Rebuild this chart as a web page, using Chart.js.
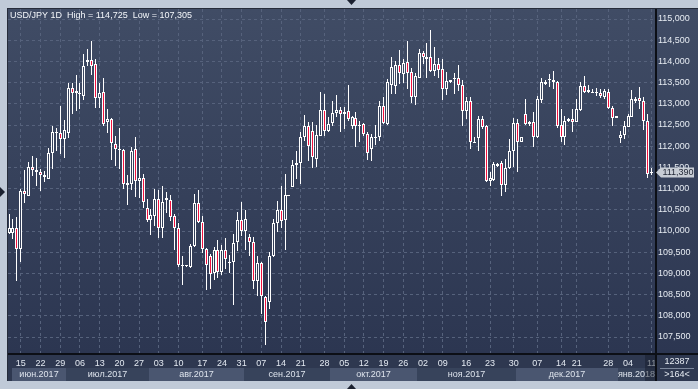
<!DOCTYPE html>
<html>
<head>
<meta charset="utf-8">
<script src="https://cdn.jsdelivr.net/npm/chart.js@4.4.1/dist/chart.umd.min.js"></script>
<style>
  html, body { margin: 0; padding: 0; background: #c0cad8; overflow: hidden; }
  canvas { display: block; }
</style>
</head>
<body>
<canvas id="usdjpy" width="698" height="389"></canvas>
<script>
// USD/JPY daily candles, Jun 2017 - Jan 2018
const openP = [
  109.96,109.96,110.08,109.58,110.94,110.83,111.52,111.45,111.38,111.32,
  111.22,111.85,112.34,112.30,112.16,112.30,113.37,113.25,113.26,113.19,
  113.99,114.03,113.93,113.14,113.29,112.56,112.63,112.06,111.94,111.90,
  111.08,111.10,111.93,111.18,111.26,110.55,110.26,110.35,110.75,110.06,
  110.79,110.74,110.35,110.08,109.21,109.19,109.15,109.65,110.67,110.22,
  109.58,109.40,109.00,109.55,109.03,109.55,109.26,109.26,109.73,110.25,
  109.99,109.85,109.73,108.81,109.25,108.44,108.33,109.41,110.19,110.49,
  110.25,110.84,111.03,111.56,111.60,112.21,112.48,112.35,111.71,112.25,
  112.85,112.35,112.54,112.78,112.85,112.81,112.82,112.48,112.67,112.50,
  112.52,112.29,111.93,112.21,112.21,112.94,112.52,113.45,113.43,113.92,
  113.70,113.98,113.74,113.17,113.62,114.20,114.10,114.10,113.78,113.95,
  113.81,113.36,113.52,113.58,113.60,113.44,112.82,113.06,112.09,112.19,
  112.64,112.48,111.19,111.21,111.58,111.60,111.09,111.49,111.89,112.54,
  112.11,112.76,112.52,112.56,112.21,113.09,113.52,113.55,113.56,113.51,
  112.50,112.22,112.59,112.64,112.58,112.85,113.41,113.27,113.29,113.29,
  113.25,113.15,113.29,112.89,112.67,112.19,112.27,112.46,112.70,113.07,
  113.14,113.06,112.60,111.36
]
const highP = [
  110.39,110.28,110.34,110.98,111.43,111.63,111.78,111.72,111.46,111.42,
  111.95,112.48,112.44,112.94,112.62,113.48,113.48,113.69,113.48,114.17,
  114.29,114.48,114.05,113.48,113.62,112.87,112.67,112.24,112.42,111.94,
  111.31,111.97,112.21,111.72,111.34,110.76,110.51,110.98,110.97,111.06,
  110.92,110.84,110.39,110.18,109.41,109.19,109.69,110.87,110.96,110.35,
  109.61,109.45,109.63,109.79,109.67,109.83,109.43,109.93,110.46,110.68,
  110.50,109.94,109.85,109.40,109.28,108.47,109.50,110.28,110.70,111.07,
  111.34,110.85,111.68,111.89,112.33,112.74,112.56,112.56,112.50,113.27,
  113.23,112.68,113.07,113.21,112.92,112.92,113.44,112.72,112.80,112.60,
  112.55,112.33,112.29,112.50,113.07,113.16,113.58,114.11,114.02,114.27,
  114.06,114.47,113.84,113.72,114.29,114.25,114.43,114.73,114.33,114.08,
  114.05,113.74,113.56,113.72,113.92,113.55,113.15,113.15,112.21,112.72,
  112.72,112.50,111.38,111.62,111.60,111.66,111.70,112.17,112.66,112.64,
  112.22,113.11,112.60,112.81,113.19,113.62,113.55,113.70,113.77,113.53,
  112.88,112.72,112.67,112.88,113.11,113.51,113.65,113.44,113.35,113.37,
  113.35,113.36,113.35,112.96,112.72,112.37,112.60,112.76,113.33,113.15,
  113.39,113.17,112.76,111.48
]
const lowP = [
  109.92,109.80,108.82,109.28,110.65,110.83,111.30,111.06,110.94,111.16,
  111.22,111.46,111.89,111.81,111.72,112.19,112.75,112.83,112.87,113.09,
  113.88,113.69,112.91,112.89,112.48,112.32,111.68,111.53,111.46,110.98,
  110.61,110.97,110.80,110.78,110.54,110.21,109.91,110.12,109.84,109.84,
  110.43,110.24,109.55,109.16,108.73,109.16,109.12,109.63,110.20,109.49,
  108.61,108.64,108.84,108.90,108.96,109.10,109.01,108.26,109.54,109.89,
  109.56,109.40,108.63,108.46,108.04,107.32,108.16,109.39,109.97,110.07,
  109.56,110.83,111.03,111.23,111.11,112.13,111.66,111.48,111.50,112.23,
  112.25,112.33,112.48,112.70,112.33,112.41,112.60,112.41,111.99,112.09,
  112.25,111.68,111.64,112.03,112.13,112.52,112.51,113.23,113.23,113.47,
  113.50,113.35,113.03,112.97,113.61,113.94,113.62,113.74,113.66,113.62,
  113.10,113.21,113.48,113.23,113.31,112.48,112.64,111.93,112.08,111.88,
  112.41,111.15,111.07,111.19,111.50,110.83,110.93,111.46,111.50,111.40,
  112.09,112.50,112.48,111.99,112.20,113.03,113.45,113.39,113.36,112.44,
  112.09,112.03,112.56,112.33,112.56,112.84,113.25,113.25,113.25,113.19,
  113.13,113.11,112.88,112.47,112.67,112.07,112.17,112.45,112.68,113.03,
  112.88,112.38,111.25,111.32
]
const closeP = [
  110.08,110.08,109.58,110.94,110.88,111.52,111.45,111.38,111.32,111.27,
  111.85,112.34,112.30,112.18,112.39,113.37,113.26,113.30,113.22,113.89,
  114.03,113.90,113.14,113.25,112.53,112.63,112.08,111.94,111.90,111.12,
  111.14,111.89,111.18,111.26,110.68,110.26,110.37,110.75,110.06,110.69,
  110.73,110.33,110.06,109.20,109.18,109.18,109.65,110.67,110.22,109.58,
  109.20,108.98,109.55,109.03,109.55,109.33,109.25,109.72,110.25,109.99,
  110.28,109.73,108.81,109.25,108.46,107.86,109.41,110.19,110.49,110.24,
  110.84,110.84,111.56,111.60,112.22,112.48,112.00,111.74,112.26,112.85,
  112.35,112.52,112.78,112.85,112.76,112.75,112.64,112.68,112.48,112.47,
  112.29,111.84,112.21,112.21,112.94,112.54,113.52,113.86,113.92,113.73,
  113.96,113.72,113.17,113.65,114.20,114.10,114.05,113.77,113.95,113.80,
  113.36,113.54,113.55,113.60,113.44,112.82,113.06,112.09,112.11,112.64,
  112.46,111.19,111.24,111.58,111.53,111.09,111.49,111.88,112.54,112.11,
  112.21,112.52,112.56,112.21,113.11,113.51,113.47,113.58,113.51,112.47,
  112.22,112.60,112.64,112.57,112.88,113.41,113.29,113.33,113.27,113.25,
  113.18,113.31,112.89,112.67,112.72,112.27,112.48,112.72,113.11,113.11,
  113.07,112.60,111.34,111.39
]

// weekly labels on the time axis (candle number -> day of month)
const tickIdx = [4, 9, 14, 19, 24, 29, 34, 39, 44, 50, 55, 60, 65, 70, 75, 81,
  86, 91, 96, 101, 106, 111, 117, 123, 129, 135, 141, 145, 153, 158, 164]
const tickLab = ['15', '22', '29', '06', '13', '20', '27', '03', '10', '17', '24', '31',
  '07', '14', '21', '28', '05', '12', '19', '26', '02', '09', '16', '23', '30',
  '07', '14', '21', '28', '04', '11']

// month strip under the dates
const monthLab = ['июн.2017', 'июл.2017', 'авг.2017', 'сен.2017', 'окт.2017',
  'ноя.2017', 'дек.2017', 'янв.2018']
const monthStart = [1, 16, 37, 61, 83, 105, 130, 156]

const title = 'USD/JPY 1D  High = 114,725  Low = 107,305'
const barTotal = '12387'

const idx = closeP.map((_, i) => i + 1)
const fmt = v => v.toFixed(3).replace('.', ',')
const FAMILY = '"Liberation Sans", Arial, sans-serif'
const FONT = '9px ' + FAMILY
const Y_MIN = 107.123
const Y_MAX = 115.236

// hollow candles show the panel colour through, so follow the gradient
function hollowFill (v) {
  const t = Math.min(1, Math.max(0, (Y_MAX - v) / (Y_MAX - Y_MIN)))
  const top = [64, 76, 101]
  const bot = [44, 54, 81]
  const c = top.map((a, k) => Math.round(a + (bot[k] - a) * t))
  return `rgb(${c[0]},${c[1]},${c[2]})`
}

// keep candles on whole pixels like the terminal does
const snap = {
  id: 'snap',
  beforeDatasetsDraw (chart) {
    chart.data.datasets.forEach((ds, d) => {
      chart.getDatasetMeta(d).data.forEach(el => {
        el.width = Math.round(el.width)
        el.x = Math.floor(el.x) + 0.5
        el.y = Math.round(el.y)
        el.base = Math.round(el.base)
        if (Math.abs(el.base - el.y) < 1) el.base = el.y + 1
      })
    })
  }
}

const frame = {
  id: 'frame',
  beforeDraw (chart) {
    const { ctx, chartArea: a } = chart
    const x = chart.scales.x
    const W = chart.width
    ctx.save()
    ctx.fillStyle = '#c0cad8'
    ctx.fillRect(0, 0, W, chart.height)

    const g = ctx.createLinearGradient(0, a.top, 0, a.bottom)
    g.addColorStop(0, '#404c65')
    g.addColorStop(1, '#2c3651')
    ctx.fillStyle = g
    ctx.fillRect(8, 9, W - 8, a.bottom - 9)

    // date row + month row
    ctx.fillStyle = '#2e3850'
    ctx.fillRect(8, a.bottom, W - 8, 381 - a.bottom)

    ctx.font = FONT
    ctx.textAlign = 'center'
    ctx.textBaseline = 'middle'
    monthStart.forEach((s, i) => {
      const l = Math.round(Math.max(x.getPixelForValue(s - 0.5), a.left + 4))
      const r = Math.round(i < monthStart.length - 1 ? x.getPixelForValue(monthStart[i + 1] - 0.5) : a.right)
      ctx.fillStyle = i % 2 ? '#37435b' : '#4a5670'
      ctx.fillRect(l, 368, r - l, 13)
      ctx.save()
      ctx.beginPath()
      ctx.rect(l, 368, r - l, 13)
      ctx.clip()
      ctx.fillStyle = '#dde3ec'
      ctx.fillText(monthLab[i], (l + r) / 2, 375)
      ctx.restore()
    })
    ctx.restore()
  },
  afterDraw (chart) {
    const { ctx, chartArea: a } = chart
    const y = chart.scales.y
    const W = chart.width
    ctx.save()

    // cursor box over the last date
    ctx.fillStyle = 'rgba(20,26,40,0.45)'
    ctx.fillRect(645, a.bottom, a.right - 645, 381 - a.bottom)

    // frame lines
    ctx.fillStyle = '#262c3a'
    ctx.fillRect(7, 8, 1, 373)
    ctx.fillRect(7, 8, W - 7, 1)
    ctx.fillStyle = '#0c0f16'
    ctx.fillRect(a.right, 9, 2, 372)
    ctx.fillRect(8, a.bottom, W - 8, 2)

    // bar counter box
    ctx.fillStyle = '#2e3850'
    ctx.fillRect(a.right + 2, a.bottom + 2, W - a.right - 2, 381 - a.bottom - 2)
    ctx.font = FONT
    ctx.textAlign = 'center'
    ctx.textBaseline = 'middle'
    ctx.fillStyle = '#e6ebf2'
    ctx.fillText(barTotal, 677, 362)
    ctx.fillText('>' + closeP.length + '<', 677, 375)
    ctx.fillStyle = '#7d889c'
    ctx.fillRect(660, 368, 34, 1)

    // title
    ctx.textAlign = 'left'
    ctx.fillStyle = '#f4f7fb'
    ctx.fillText(title, 10, 15.5)

    // last price tag
    const last = closeP[closeP.length - 1]
    const ty = Math.round(y.getPixelForValue(last))
    ctx.fillStyle = '#c8cdd5'
    ctx.beginPath()
    ctx.moveTo(656, ty + 0.5)
    ctx.lineTo(661, ty - 4.5)
    ctx.lineTo(694, ty - 4.5)
    ctx.lineTo(694, ty + 5.5)
    ctx.lineTo(661, ty + 5.5)
    ctx.closePath()
    ctx.fill()
    ctx.fillStyle = '#1e2433'
    ctx.textAlign = 'center'
    ctx.fillText(fmt(last), 678, ty + 1)

    // scroll markers
    ctx.fillStyle = '#1b2130'
    ctx.beginPath(); ctx.moveTo(347, 0); ctx.lineTo(356, 0); ctx.lineTo(351.5, 5); ctx.fill()
    ctx.beginPath(); ctx.moveTo(347, 389); ctx.lineTo(356, 389); ctx.lineTo(351.5, 384); ctx.fill()
    ctx.beginPath(); ctx.moveTo(0, 187); ctx.lineTo(5, 192); ctx.lineTo(0, 197); ctx.fill()
    ctx.restore()
  }
}

new Chart(document.getElementById('usdjpy'), {
  type: 'bar',
  data: {
    datasets: [
      {
        label: 'body',
        order: 1,
        data: idx.map(i => ({ x: i, y: [Math.min(openP[i - 1], closeP[i - 1]), Math.max(openP[i - 1], closeP[i - 1])] })),
        barPercentage: 1,
        categoryPercentage: 1,
        maxBarThickness: 3,
        borderWidth: 1,
        borderSkipped: false,
        inflateAmount: 0,
        borderColor: '#ffffff',
        backgroundColor: c => {
          const i = c.dataIndex
          return closeP[i] < openP[i] ? '#f2123f' : hollowFill((openP[i] + closeP[i]) / 2)
        },
        grouped: false
      },
      {
        label: 'wick',
        order: 2,
        data: idx.map(i => ({ x: i, y: [lowP[i - 1], highP[i - 1]] })),
        barPercentage: 1,
        categoryPercentage: 1,
        maxBarThickness: 1,
        borderWidth: 0,
        inflateAmount: 0,
        backgroundColor: '#ffffff',
        grouped: false
      }
    ]
  },
  options: {
    responsive: false,
    animation: false,
    devicePixelRatio: 1,
    layout: { padding: { left: 8, top: 9, right: 0, bottom: 0 } },
    plugins: { legend: { display: false }, tooltip: { enabled: false } },
    scales: {
      x: {
        type: 'linear',
        offset: false,
        min: 0.746,
        max: 164.84,
        afterBuildTicks: s => { s.ticks = tickIdx.map(v => ({ value: v })) },
        afterFit: s => { s.height = 36 },
        ticks: {
          autoSkip: false,
          maxRotation: 0,
          minRotation: 0,
          padding: 5,
          color: '#e2e8f0',
          font: { family: FAMILY, size: 9 },
          callback: (v, i) => tickLab[i]
        },
        grid: { offset: false, color: '#56627c', drawTicks: false },
        border: { display: false, dash: [3, 3] }
      },
      y: {
        type: 'linear',
        position: 'right',
        beginAtZero: false,
        min: Y_MIN,
        max: Y_MAX,
        afterFit: s => { s.width = 43 },
        ticks: {
          stepSize: 0.5,
          includeBounds: false,
          padding: 3,
          color: '#e6ebf2',
          font: { family: FAMILY, size: 9 },
          callback: v => fmt(v)
        },
        grid: { color: '#56627c', drawTicks: false },
        border: { display: false, dash: [3, 3] }
      }
    }
  },
  plugins: [frame, snap]
})
</script>
</body>
</html>
